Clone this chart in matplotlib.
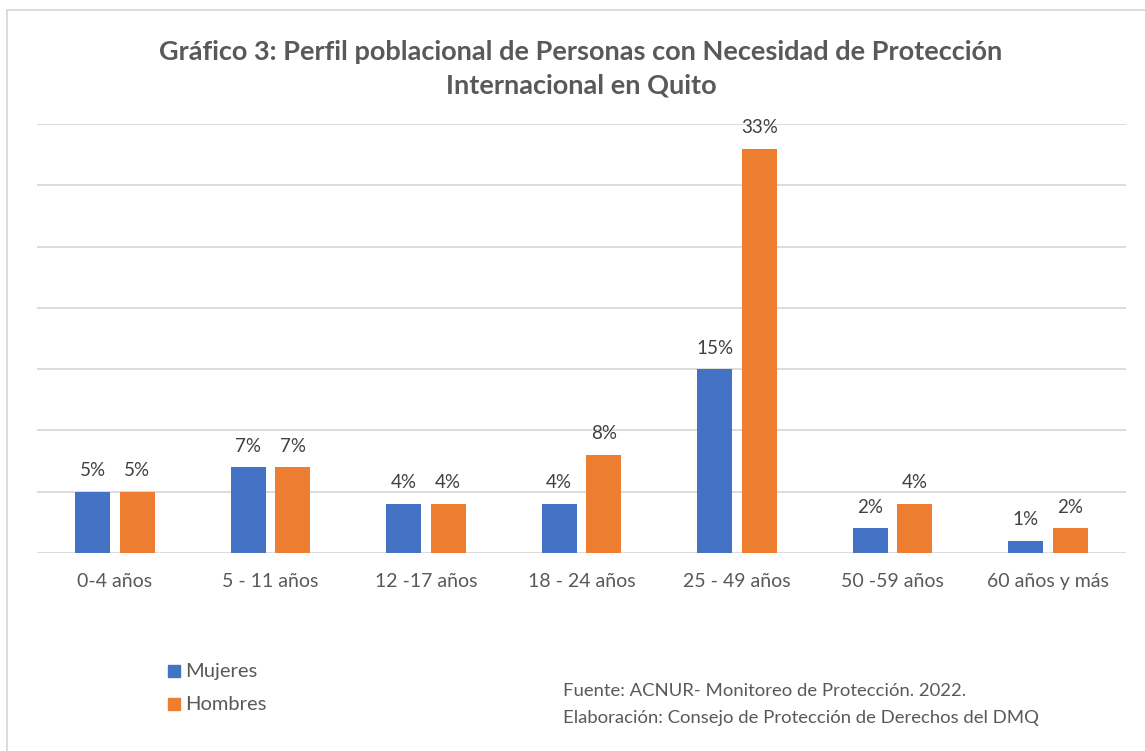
import numpy as np
import matplotlib.pyplot as plt
from matplotlib.patches import Rectangle

categorias = ['0-4 años', '5 - 11 años', '12 -17 años', '18 - 24 años',
              '25 - 49 años', '50 -59 años', '60 años y más']
mujeres = [5, 7, 4, 4, 15, 2, 1]
hombres = [5, 7, 4, 8, 33, 4, 2]

azul = '#4472C4'
naranja = '#ED7D31'
gris = '#595959'

plt.rcParams['font.family'] = ['Lato', 'DejaVu Sans']

fig = plt.figure(figsize=(11.45, 7.51), dpi=100)
ax = fig.add_axes([37 / 1145, 1 - 553 / 751, 1089 / 1145, 429 / 751])

x = np.arange(len(categorias))
ancho = 0.225
off = 0.143
b1 = ax.bar(x - off, mujeres, ancho, color=azul, label='Mujeres', zorder=3)
b2 = ax.bar(x + off, hombres, ancho, color=naranja, label='Hombres', zorder=3)

for barras, vals in [(b1, mujeres), (b2, hombres)]:
    for b, v in zip(barras, vals):
        ax.annotate(f'{v}%', (b.get_x() + b.get_width() / 2, v),
                    xytext=(0, 9), textcoords='offset points',
                    ha='center', va='bottom', fontsize=13.5, color='#404040')

ax.set_xlim(-0.5, len(categorias) - 0.5)
ax.set_ylim(0, 35)
ax.set_yticks(np.arange(0, 36, 5))
ax.yaxis.grid(True, color='#D9D9D9', linewidth=1.3, zorder=0)
ax.tick_params(axis='y', left=False, labelleft=False)
ax.tick_params(axis='x', bottom=False, pad=11, labelsize=14, labelcolor=gris)
ax.set_xticks(x)
ax.set_xticklabels(categorias)
for s in ax.spines.values():
    s.set_visible(False)

fig.text(581 / 1145, 1 - 69 / 751,
         'Gráfico 3: Perfil poblacional de Personas con Necesidad de Protección\nInternacional en Quito',
         ha='center', va='center', fontsize=19.5, fontweight='bold', color=gris,
         linespacing=1.48)

# legend
for i, (lab, col) in enumerate([('Mujeres', azul), ('Hombres', naranja)]):
    yy = 1 - (671 + 33 * i) / 751
    fig.patches.append(Rectangle((168 / 1145, yy - 6 / 751), 12 / 1145, 12 / 751,
                                 transform=fig.transFigure, color=col))
    fig.text(185 / 1145, yy, lab, ha='left', va='center', fontsize=14.5, color=gris)

fig.text(563 / 1145, 1 - 691 / 751, 'Fuente: ACNUR- Monitoreo de Protección. 2022.',
         ha='left', va='center', fontsize=13.3, color=gris)
fig.text(563 / 1145, 1 - 718 / 751, 'Elaboración: Consejo de Protección de Derechos del DMQ',
         ha='left', va='center', fontsize=13.3, color=gris)

# outer frame
fig.patches.append(Rectangle((7 / 1145, -0.01), 1.2, 1 - 10 / 751 + 0.01,
                             transform=fig.transFigure, fill=False,
                             edgecolor='#D9D9D9', linewidth=1.3))

fig.savefig('out.png', dpi=100)
